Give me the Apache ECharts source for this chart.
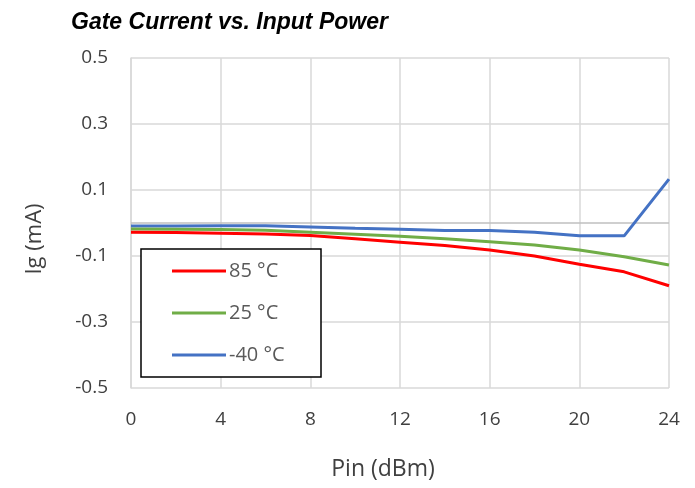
<!DOCTYPE html>
<html><head><meta charset="utf-8">
<script src="https://cdn.jsdelivr.net/npm/echarts@6/dist/echarts.min.js"></script>
<style>html,body{margin:0;padding:0;background:#fff}#c{width:695px;height:488px}</style>
</head><body><div id="c"></div>
<script>
var pin = [0, 2, 4, 6, 8, 10, 12, 14, 16, 18, 20, 22, 24];
var ig85 = [-0.028, -0.029, -0.031, -0.033, -0.038, -0.048, -0.058, -0.068, -0.082, -0.100, -0.125, -0.148, -0.190];
var ig25 = [-0.018, -0.019, -0.020, -0.022, -0.028, -0.034, -0.040, -0.048, -0.057, -0.067, -0.082, -0.102, -0.127];
var igm40 = [-0.009, -0.009, -0.008, -0.008, -0.012, -0.016, -0.019, -0.023, -0.023, -0.028, -0.039, -0.039, 0.133];
var seriesNames = ['85 °C', '25 °C', '-40 °C'];
var colors = ['#FF0000', '#70AD47', '#4472C4'];
var titleText = 'Gate Current vs. Input Power';

function pairs(ys){ return pin.map(function(x,i){ return [x, ys[i]]; }); }
var all = [ig85, ig25, igm40];
var font = '"Open Sans", "Noto Sans", sans-serif';
var series = all.map(function(ys, i){
  var s = {
    name: seriesNames[i], type: 'line', data: pairs(ys), showSymbol: false,
    lineStyle: {color: colors[i], width: 3}, itemStyle: {color: colors[i]},
    z: 2 + (2 - i) * 0.1
  };
  if (i === 0) {
    s.markLine = {silent: true, symbol: 'none', label: {show: false},
      lineStyle: {color: '#bfbfbf', width: 1.5, type: 'solid'},
      data: [{yAxis: 0}], z: 1};
  }
  return s;
});
var chart = echarts.init(document.getElementById('c'));
chart.setOption({
  animation: false,
  title: {text: titleText, left: 66, top: 6,
    textStyle: {fontFamily: '"Liberation Sans", Arial, sans-serif', fontStyle: 'italic', fontWeight: 'bold', fontSize: 23, color: '#000'}},
  grid: {left: 131, right: 26, top: 58, bottom: 100},
  xAxis: {type: 'value', min: 0, max: 24, interval: 4,
    name: 'Pin (dBm)', nameLocation: 'middle', nameGap: 70,
    nameTextStyle: {fontFamily: font, fontSize: 23, color: '#404040', padding: [0, 34, 0, 0]},
    axisLine: {show: false}, axisTick: {show: false},
    axisLabel: {fontFamily: font, fontSize: 19, color: '#404040', margin: 22},
    splitLine: {show: true, lineStyle: {color: '#d9d9d9', width: 1.5}}},
  yAxis: {type: 'value', min: -0.5, max: 0.5, interval: 0.2,
    name: 'Ig (mA)', nameLocation: 'middle', nameGap: 85,
    nameTextStyle: {fontFamily: font, fontSize: 22, color: '#404040', padding: [0, 32, 0, 0]},
    axisLine: {show: true, lineStyle: {color: '#d9d9d9', width: 1.5}}, axisTick: {show: false},
    axisLabel: {fontFamily: font, fontSize: 19, color: '#404040', margin: 23,
      formatter: function(v){ return (Math.round(v*10)/10).toFixed(1); }},
    splitLine: {show: true, lineStyle: {color: '#d9d9d9', width: 1.5}}},
  legend: {orient: 'vertical', left: 141, top: 261, padding: [0, 0, 0, 31],
    itemWidth: 54, itemHeight: 3, itemGap: 22, icon: 'rect', z: 5,
    data: seriesNames,
    textStyle: {fontFamily: font, fontSize: 20, color: '#595959', lineHeight: 20, padding: [0,0,0,-2]}},
  graphic: [{type: 'rect', z: 4, shape: {x: 141, y: 249, width: 180, height: 128},
    style: {fill: '#fff', stroke: '#000', lineWidth: 1.5}}],
  series: series
});
</script></body></html>
